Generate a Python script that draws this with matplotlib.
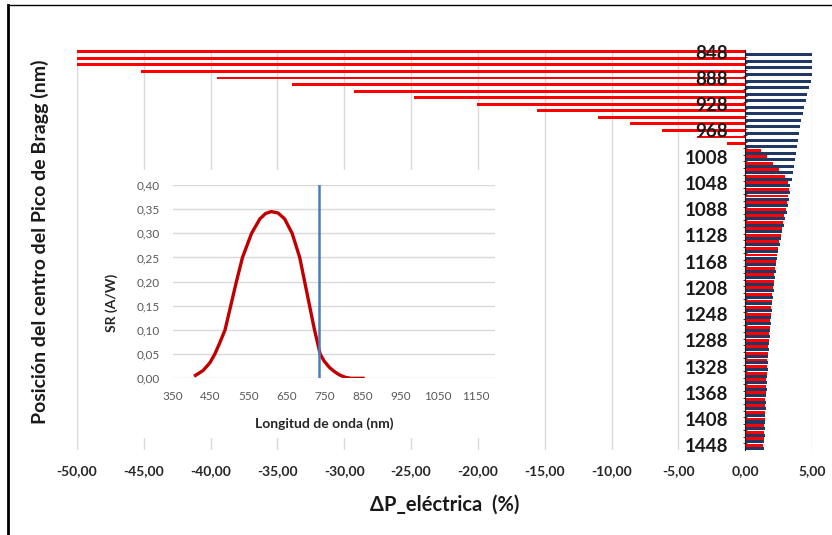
'''
Bragg peak position vs. change in electrical power, with the
spectral response of the cell as an inset.
'''

import matplotlib
matplotlib.use('Agg')
from matplotlib import pyplot as plt
from matplotlib.lines import Line2D
from matplotlib.patches import Rectangle

plt.rcParams['font.family'] = ['Lato', 'DejaVu Sans']

# Bragg peak centre positions (nm), one bar pair per category
positions = list(range(848, 1449, 10))

# series (%), same order as positions
dp_red = [-50.0, -50.0, -50.0, -45.2, -39.5, -33.9, -29.3, -24.8, -20.1, -15.6,
          -11.0, -8.6, -6.2, -3.6, -1.35, 1.2, 1.6, 2.1, 2.5, 2.95,
          3.2, 3.3, 3.2, 3.12, 3.02, 2.94, 2.86, 2.74, 2.66, 2.55,
          2.44, 2.36, 2.3, 2.24, 2.18, 2.13, 2.08, 2.03, 1.98, 1.94,
          1.9, 1.86, 1.82, 1.79, 1.76, 1.72, 1.69, 1.66, 1.64, 1.61,
          1.58, 1.56, 1.54, 1.51, 1.49, 1.47, 1.45, 1.43, 1.41, 1.39,
          1.37]
dp_blue = [5.0, 5.0, 5.0, 5.0, 4.9, 4.78, 4.66, 4.54, 4.42, 4.3,
           4.2, 4.1, 4.02, 3.95, 3.86, 3.78, 3.72, 3.64, 3.57, 3.48,
           3.38, 3.32, 3.27, 3.2, 3.1, 2.98, 2.9, 2.78, 2.7, 2.58,
           2.48, 2.4, 2.34, 2.28, 2.22, 2.17, 2.12, 2.07, 2.02, 1.98,
           1.94, 1.9, 1.86, 1.83, 1.8, 1.76, 1.73, 1.7, 1.68, 1.65,
           1.62, 1.6, 1.58, 1.55, 1.53, 1.51, 1.49, 1.47, 1.45, 1.43,
           1.41]

x_ticks = [-50, -45, -40, -35, -30, -25, -20, -15, -10, -5, 0, 5]
x_tick_labels = ['-50,00', '-45,00', '-40,00', '-35,00', '-30,00', '-25,00',
                 '-20,00', '-15,00', '-10,00', '-5,00', '0,00', '5,00']

# inset: spectral response
wavelength = [410, 430, 448, 461, 475, 488, 503, 518, 534, 558, 580, 595,
              610, 628, 645, 665, 685, 698, 711, 724, 739, 750, 764, 778,
              790, 805, 820, 852]
sr = [0.006, 0.016, 0.032, 0.05, 0.075, 0.10, 0.15, 0.20, 0.25, 0.30, 0.33,
      0.341, 0.345, 0.342, 0.33, 0.30, 0.25, 0.20, 0.15, 0.10, 0.05, 0.035,
      0.022, 0.013, 0.007, 0.002, 0.0, 0.0]
marker_wavelength = 736
inset_x_ticks = [350, 450, 550, 650, 750, 850, 950, 1050, 1150]
inset_y_ticks = [0.0, 0.05, 0.10, 0.15, 0.20, 0.25, 0.30, 0.35, 0.40]
inset_y_labels = ['0,00', '0,05', '0,10', '0,15', '0,20', '0,25', '0,30',
                  '0,35', '0,40']

W, H = 832, 535
fig = plt.figure(figsize=(W / 100, H / 100), dpi=100)

ax = fig.add_axes([77 / W, 1 - 450 / H, 735 / W, 400 / H])
idx = list(range(len(positions)))
ax.barh([i - 0.23 for i in idx], dp_red, height=0.44, color='#FF0000', zorder=3)
ax.barh([i + 0.23 for i in idx], dp_blue, height=0.46, color='#1F3864', zorder=3)

ax.set_xlim(-50, 5)
ax.set_ylim(len(positions) - 0.5, -0.5)
ax.set_xticks(x_ticks)
ax.set_xticklabels(x_tick_labels, fontsize=10, fontweight='bold', color='#262626')
ax.tick_params(axis='x', length=0, pad=11)
ax.grid(axis='x', color='#D9D9D9', linewidth=1, zorder=0)

# category labels sit next to the zero line, on top of the bars
ax.set_yticks([i + 0.5 for i in idx[:-1]], minor=True)
ax.set_yticks([])
ax.tick_params(axis='y', which='minor', length=2.5, direction='inout', color='#1A1A1A')
for i in idx[::4]:
    ax.text(-1.3, i, str(positions[i]), ha='right', va='center', fontsize=13.5,
            fontweight='bold', color='#1A1A1A', zorder=6)

for side in ['top', 'right', 'bottom']:
    ax.spines[side].set_visible(False)
ax.spines['left'].set_position(('data', 0))
ax.spines['left'].set_color('#1A1A1A')
ax.spines['left'].set_zorder(4)

fig.text(445 / W, 1 - 505 / H, 'ΔP_eléctrica  (%)', ha='center', va='center',
         fontsize=14.5, fontweight='bold', color='#1A1A1A')
fig.text(40 / W, 1 - 242 / H, 'Posición del centro del Pico de Bragg (nm)',
         ha='center', va='center', rotation=90, fontsize=14, fontweight='bold',
         color='#1A1A1A')

# white card behind the inset
fig.patches.append(Rectangle((100 / W, 1 - 438 / H), 405 / W, 268 / H,
                             transform=fig.transFigure, facecolor='white',
                             edgecolor='none', zorder=1))

ins = fig.add_axes([172.7 / W, 1 - 378.3 / H, 322.3 / W, 193.3 / H], zorder=2)
ins.plot(wavelength, sr, color='#C00000', linewidth=2.4, zorder=3)
ins.axvline(marker_wavelength, color='#4A7EBB', linewidth=1.8, zorder=4)
ins.set_xlim(350, 1200)
ins.set_ylim(0, 0.4)
ins.set_xticks(inset_x_ticks)
ins.set_xticklabels([str(t) for t in inset_x_ticks], fontsize=8.5, color='#595959')
ins.set_yticks(inset_y_ticks)
ins.set_yticklabels(inset_y_labels, fontsize=8.5, color='#595959')
ins.tick_params(axis='x', length=0, pad=9)
ins.tick_params(axis='y', length=0, pad=9)
ins.grid(axis='y', color='#D9D9D9', linewidth=1, zorder=0)
for side in ins.spines:
    ins.spines[side].set_visible(False)
ins.set_xlabel('Longitud de onda (nm)', fontsize=10, fontweight='bold', color='#262626')
ins.xaxis.set_label_coords(0.47, -0.2)
ins.set_ylabel('SR (A/W)', fontsize=10, fontweight='bold', color='#262626')
ins.yaxis.set_label_coords(-0.17, 0.39)

# frame lines at the left and top edges
fig.add_artist(Line2D([8 / W, 8 / W], [0, 1 - 5 / H], transform=fig.transFigure,
                      color='black', linewidth=2))
fig.add_artist(Line2D([8 / W, 1], [1 - 5 / H, 1 - 5 / H], transform=fig.transFigure,
                      color='black', linewidth=1))

fig.savefig('out.png', dpi=100)
